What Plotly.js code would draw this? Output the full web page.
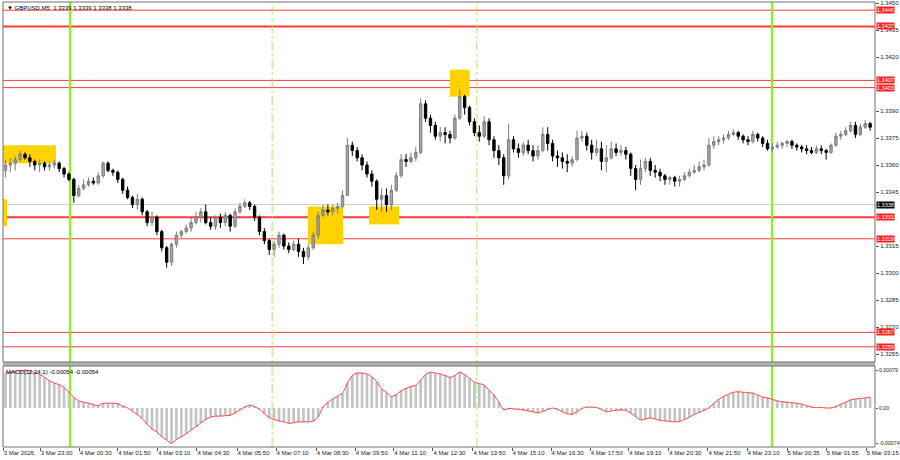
<!DOCTYPE html>
<html><head><meta charset="utf-8">
<script src="https://cdn.plot.ly/plotly-3.0.1.min.js"></script>
<style>html,body{margin:0;padding:0;background:#fff}#c{width:900px;height:460px}</style>
</head><body><div id="c"></div>
<script>
// ---- data (10-minute bars, GBPUSD) ----
const barOpen = [
1.3357,1.3360,1.3361,1.3363,1.3366,1.3364,1.3362,1.3360,1.3361,1.3359,
1.3360,1.3361,1.3358,1.3355,1.3352,1.3343,1.3347,1.3349,1.3351,1.3350,
1.3354,1.3361,1.3357,1.3356,1.3352,1.3346,1.3342,1.3338,1.3341,1.3334,
1.3328,1.3331,1.3323,1.3314,1.3306,1.3316,1.3321,1.3323,1.3325,1.3328,
1.3331,1.3334,1.3328,1.3326,1.3331,1.3328,1.3332,1.3326,1.3334,1.3337,
1.3339,1.3337,1.3331,1.3323,1.3318,1.3313,1.3316,1.3321,1.3315,1.3313,
1.3316,1.3312,1.3309,1.3314,1.3321,1.3332,1.3335,1.3334,1.3336,1.3337,
1.3343,1.3371,1.3368,1.3364,1.3360,1.3355,1.3351,1.3341,1.3343,1.3338,
1.3346,1.3354,1.3363,1.3362,1.3364,1.3367,1.3394,1.3386,1.3382,1.3376,
1.3378,1.3377,1.3375,1.3386,1.3398,1.3392,1.3384,1.3378,1.3376,1.3384,
1.3374,1.3368,1.3364,1.3354,1.3374,1.3369,1.3367,1.3371,1.3368,1.3365,
1.3368,1.3377,1.3372,1.3365,1.3364,1.3362,1.3361,1.3363,1.3375,1.3376,
1.3371,1.3367,1.3369,1.3362,1.3364,1.3369,1.3367,1.3368,1.3366,1.3358,
1.3352,1.3358,1.3362,1.3357,1.3356,1.3354,1.3352,1.3353,1.3351,1.3352,
1.3354,1.3356,1.3357,1.3359,1.3360,1.3371,1.3373,1.3374,1.3375,1.3377,
1.3378,1.3376,1.3374,1.3373,1.3377,1.3375,1.3372,1.3369,1.3370,1.3371,
1.3372,1.3373,1.3371,1.3370,1.3369,1.3368,1.3367,1.3369,1.3368,1.3367,
1.3371,1.3376,1.3377,1.3379,1.3382,1.3377,1.3381,1.3383];
const barHigh = [
1.3363,1.3364,1.3365,1.3368,1.3367,1.3366,1.3363,1.3363,1.3362,1.3362,
1.3363,1.3362,1.3359,1.3356,1.3353,1.3349,1.3352,1.3353,1.3353,1.3356,
1.3362,1.3362,1.3358,1.3357,1.3353,1.3348,1.3343,1.3344,1.3342,1.3335,
1.3334,1.3332,1.3324,1.3315,1.3317,1.3323,1.3324,1.3327,1.3331,1.3334,
1.3336,1.3338,1.3331,1.3332,1.3333,1.3334,1.3333,1.3336,1.3339,1.3341,
1.3340,1.3338,1.3332,1.3325,1.3319,1.3318,1.3323,1.3322,1.3317,1.3318,
1.3319,1.3314,1.3316,1.3323,1.3334,1.3338,1.3338,1.3338,1.3339,1.3346,
1.3375,1.3373,1.3370,1.3366,1.3362,1.3357,1.3352,1.3347,1.3347,1.3349,
1.3356,1.3366,1.3366,1.3367,1.3370,1.3397,1.3396,1.3388,1.3384,1.3381,
1.3381,1.3379,1.3388,1.3402,1.3399,1.3393,1.3386,1.3382,1.3387,1.3386,
1.3376,1.3371,1.3366,1.3383,1.3376,1.3372,1.3373,1.3374,1.3371,1.3371,
1.3381,1.3381,1.3374,1.3368,1.3367,1.3366,1.3365,1.3379,1.3379,1.3378,
1.3374,1.3374,1.3373,1.3371,1.3373,1.3372,1.3371,1.3370,1.3367,1.3360,
1.3363,1.3364,1.3364,1.3360,1.3358,1.3355,1.3354,1.3354,1.3354,1.3356,
1.3358,1.3360,1.3362,1.3363,1.3375,1.3376,1.3376,1.3377,1.3379,1.3380,
1.3379,1.3377,1.3376,1.3379,1.3378,1.3376,1.3374,1.3372,1.3373,1.3373,
1.3374,1.3374,1.3372,1.3371,1.3371,1.3370,1.3371,1.3371,1.3369,1.3372,
1.3378,1.3379,1.3381,1.3384,1.3384,1.3383,1.3385,1.3384];
const barLow = [
1.3353,1.3356,1.3357,1.3362,1.3363,1.3359,1.3357,1.3356,1.3357,1.3357,
1.3358,1.3356,1.3353,1.3351,1.3339,1.3342,1.3346,1.3348,1.3349,1.3349,
1.3353,1.3356,1.3354,1.3350,1.3344,1.3341,1.3336,1.3335,1.3332,1.3326,
1.3326,1.3321,1.3312,1.3303,1.3304,1.3314,1.3319,1.3322,1.3323,1.3327,
1.3328,1.3327,1.3324,1.3324,1.3325,1.3326,1.3323,1.3325,1.3333,1.3336,
1.3335,1.3329,1.3321,1.3316,1.3310,1.3309,1.3314,1.3313,1.3311,1.3312,
1.3309,1.3305,1.3307,1.3313,1.3319,1.3331,1.3332,1.3332,1.3333,1.3336,
1.3343,1.3365,1.3362,1.3357,1.3353,1.3348,1.3335,1.3334,1.3334,1.3335,
1.3345,1.3353,1.3359,1.3361,1.3362,1.3366,1.3384,1.3378,1.3374,1.3373,
1.3372,1.3372,1.3374,1.3385,1.3388,1.3382,1.3376,1.3373,1.3375,1.3371,
1.3364,1.3360,1.3349,1.3352,1.3367,1.3364,1.3365,1.3366,1.3362,1.3363,
1.3367,1.3368,1.3362,1.3359,1.3358,1.3356,1.3359,1.3362,1.3373,1.3368,
1.3363,1.3365,1.3357,1.3356,1.3363,1.3365,1.3365,1.3363,1.3354,1.3346,
1.3349,1.3356,1.3354,1.3353,1.3351,1.3349,1.3349,1.3348,1.3348,1.3351,
1.3353,1.3355,1.3356,1.3357,1.3359,1.3369,1.3371,1.3372,1.3374,1.3376,
1.3374,1.3372,1.3371,1.3372,1.3373,1.3370,1.3368,1.3367,1.3369,1.3369,
1.3370,1.3369,1.3368,1.3367,1.3366,1.3366,1.3366,1.3366,1.3363,1.3366,
1.3370,1.3374,1.3376,1.3378,1.3375,1.3376,1.3380,1.3379];
const barClose = [
1.3360,1.3361,1.3363,1.3366,1.3364,1.3362,1.3360,1.3361,1.3359,1.3360,
1.3361,1.3358,1.3355,1.3352,1.3343,1.3347,1.3349,1.3351,1.3350,1.3354,
1.3361,1.3357,1.3356,1.3352,1.3346,1.3342,1.3338,1.3341,1.3334,1.3328,
1.3331,1.3323,1.3314,1.3306,1.3316,1.3321,1.3323,1.3325,1.3328,1.3331,
1.3334,1.3328,1.3326,1.3331,1.3328,1.3332,1.3326,1.3334,1.3337,1.3339,
1.3337,1.3331,1.3323,1.3318,1.3313,1.3316,1.3321,1.3315,1.3313,1.3316,
1.3312,1.3309,1.3314,1.3321,1.3332,1.3335,1.3334,1.3336,1.3337,1.3343,
1.3371,1.3368,1.3364,1.3360,1.3355,1.3351,1.3341,1.3343,1.3338,1.3346,
1.3354,1.3363,1.3362,1.3364,1.3367,1.3394,1.3386,1.3382,1.3376,1.3378,
1.3377,1.3375,1.3386,1.3398,1.3392,1.3384,1.3378,1.3376,1.3384,1.3374,
1.3368,1.3364,1.3354,1.3374,1.3369,1.3367,1.3371,1.3368,1.3365,1.3368,
1.3377,1.3372,1.3365,1.3364,1.3362,1.3361,1.3363,1.3375,1.3376,1.3371,
1.3367,1.3369,1.3362,1.3364,1.3369,1.3367,1.3368,1.3366,1.3358,1.3352,
1.3358,1.3362,1.3357,1.3356,1.3354,1.3352,1.3353,1.3351,1.3352,1.3354,
1.3356,1.3357,1.3359,1.3360,1.3371,1.3373,1.3374,1.3375,1.3377,1.3378,
1.3376,1.3374,1.3373,1.3377,1.3375,1.3372,1.3369,1.3370,1.3371,1.3372,
1.3373,1.3371,1.3370,1.3369,1.3368,1.3367,1.3369,1.3368,1.3367,1.3371,
1.3376,1.3377,1.3379,1.3382,1.3377,1.3381,1.3383,1.3381];
const macdValues = [
0.00073,0.00075,0.00077,0.00078,0.00079,0.00078,0.00074,0.00070,0.00064,0.00057,
0.00052,0.00049,0.00043,0.00033,0.00022,0.00015,0.00012,0.00010,0.00007,0.00005,
0.00010,0.00010,0.00010,0.00009,0.00004,0.00000,-0.00007,-0.00014,-0.00022,-0.00034,
-0.00044,-0.00050,-0.00060,-0.00067,-0.00074,-0.00066,-0.00060,-0.00054,-0.00046,-0.00039,
-0.00031,-0.00024,-0.00019,-0.00017,-0.00017,-0.00016,-0.00015,-0.00010,-0.00004,0.00002,
0.00006,0.00003,-0.00003,-0.00012,-0.00020,-0.00024,-0.00027,-0.00029,-0.00032,-0.00031,
-0.00029,-0.00029,-0.00029,-0.00027,-0.00018,0.00002,0.00012,0.00019,0.00025,0.00031,
0.00052,0.00068,0.00073,0.00073,0.00071,0.00065,0.00055,0.00040,0.00033,0.00024,
0.00028,0.00036,0.00041,0.00045,0.00048,0.00058,0.00070,0.00075,0.00073,0.00071,
0.00068,0.00064,0.00068,0.00075,0.00070,0.00062,0.00054,0.00051,0.00048,0.00037,
0.00027,0.00012,-0.00004,-0.00001,-0.00002,-0.00003,-0.00004,-0.00006,-0.00008,-0.00010,
-0.00007,-0.00003,0.00000,-0.00003,-0.00008,-0.00012,-0.00013,-0.00008,-0.00001,0.00002,
0.00002,0.00001,-0.00003,-0.00008,-0.00006,-0.00005,-0.00004,-0.00005,-0.00011,-0.00018,
-0.00025,-0.00023,-0.00021,-0.00023,-0.00026,-0.00027,-0.00028,-0.00029,-0.00028,-0.00024,
-0.00019,-0.00014,-0.00009,-0.00005,0.00000,0.00010,0.00018,0.00024,0.00029,0.00033,
0.00034,0.00033,0.00032,0.00031,0.00027,0.00023,0.00021,0.00018,0.00015,0.00013,
0.00012,0.00011,0.00010,0.00008,0.00005,0.00002,0.00001,0.00001,0.00000,0.00000,
0.00003,0.00008,0.00012,0.00017,0.00019,0.00020,0.00021,0.00023];

const timeTickBar = [-0.45,7.1,15.1,23.0,31.2,39.2,47.4,55.4,63.6,71.6,79.5,87.5,95.7,103.7,111.7,119.7,127.6,135.8,143.8,151.8,160.0,168.0,176.2];
const timeTickLabels = ["3 Mar 2026","3 Mar 23:00","4 Mar 00:30","4 Mar 01:50","4 Mar 03:10","4 Mar 04:30","4 Mar 05:50","4 Mar 07:10","4 Mar 08:30","4 Mar 09:50","4 Mar 11:10","4 Mar 12:30","4 Mar 13:50","4 Mar 15:10","4 Mar 16:30","4 Mar 17:50","4 Mar 19:10","4 Mar 20:30","4 Mar 21:50","4 Mar 23:10","5 Mar 00:35","5 Mar 01:55","5 Mar 03:15"];
const priceTicks = [1.3450,1.3435,1.3420,1.3390,1.3375,1.3360,1.3345,1.3315,1.3300,1.3285,1.3270,1.3255];

const redLevels = [1.3446,1.3437,1.3407,1.3403,1.3331,1.3319,1.3267,1.3259];
const thickLevels = [1.3437,1.3331];
const bidPrice = 1.3338;
const solidMarkerBars = [13.2,156.9];
const dashedMarkerBars = [54.6,96.5];
const zoneBar0 = [-0.5,-0.5,61.9,74.4,91.0];
const zoneBar1 = [10.35,0.32,69.1,80.6,95.0];
const zoneLow  = [1.3361,1.3326,1.3316,1.3327,1.3398];
const zoneHigh = [1.3371,1.3341,1.3337,1.3337,1.3413];
const headerText = "▼ GBPUSD,M5  1.3339 1.3339 1.3338 1.3338";
const macdText = "MACD(12,24,1) -0.00054 -0.00054";
const macdTickVals = [0.00079,0,-0.00074];
const macdTickText = ["0.00079","0.00","-0.00074"];

// ---- chart ----
const barIdx = barOpen.map((_, i) => i);
const FONT = "Liberation Sans";
const traces = [
  {type:'candlestick', x:barIdx, open:barOpen, high:barHigh, low:barLow, close:barClose,
   xaxis:'x', yaxis:'y', whiskerwidth:0,
   increasing:{line:{color:'#7c7c7c',width:1}, fillcolor:'#a8a8a8'},
   decreasing:{line:{color:'#000000',width:1}, fillcolor:'#000000'},
   hoverinfo:'skip', showlegend:false},
  {type:'bar', x:barIdx, y:macdValues, xaxis:'x', yaxis:'y2',
   marker:{color:'#c4c4c4', line:{width:0}}, hoverinfo:'skip', showlegend:false},
  {type:'scatter', mode:'lines', x:barIdx, y:macdValues, xaxis:'x', yaxis:'y2',
   line:{color:'#ff3c3c', width:1, shape:'spline', smoothing:0.6}, hoverinfo:'skip', showlegend:false}
];

const shapes = [];
zoneBar0.forEach((x0, k) => shapes.push({type:'rect', xref:'x', yref:'y', x0:x0, x1:zoneBar1[k],
  y0:zoneLow[k], y1:zoneHigh[k], fillcolor:'#ffd200', line:{width:0}, layer:'below'}));
redLevels.forEach(v => shapes.push({type:'line', xref:'paper', yref:'y', x0:0, x1:1, y0:v, y1:v,
  line:{color:'#ff3a3a', width: thickLevels.includes(v) ? 2 : 1}, layer:'below'}));
shapes.push({type:'line', xref:'paper', yref:'y', x0:0, x1:1, y0:bidPrice, y1:bidPrice,
  line:{color:'#c8c8c8', width:1}, layer:'below'});
solidMarkerBars.forEach(b => shapes.push({type:'line', xref:'x', yref:'paper', x0:b, x1:b, y0:0, y1:1,
  line:{color:'#7cfc00', width:2}, layer:'below'}));
dashedMarkerBars.forEach(b => shapes.push({type:'line', xref:'x', yref:'paper', x0:b, x1:b, y0:0, y1:1,
  line:{color:'#a8e878', width:1, dash:'dashdot'}, layer:'below'}));
shapes.push({type:'rect', xref:'paper', yref:'paper', x0:0, x1:1, y0:0.182, y1:0.191,
  fillcolor:'#b4b4b4', line:{width:0}});
shapes.push({type:'rect', xref:'paper', yref:'paper', x0:0, x1:1, y0:0.191, y1:1,
  line:{color:'#707070', width:1}, fillcolor:'rgba(0,0,0,0)'});
shapes.push({type:'rect', xref:'paper', yref:'paper', x0:0, x1:1, y0:0, y1:0.182,
  line:{color:'#707070', width:1}, fillcolor:'rgba(0,0,0,0)'});

const annotations = [];
redLevels.forEach(v => annotations.push({xref:'paper', yref:'y', x:1, y:v, xanchor:'left', yanchor:'middle',
  xshift:1, text:v.toFixed(4), showarrow:false, bgcolor:'#ff2020', borderpad:0,
  font:{family:FONT, size:5.5, color:'#ffffff'}}));
annotations.push({xref:'paper', yref:'y', x:1, y:bidPrice, xanchor:'left', yanchor:'middle',
  xshift:1, text:bidPrice.toFixed(4), showarrow:false, bgcolor:'#000000', borderpad:0,
  font:{family:FONT, size:5.5, color:'#ffffff'}});
annotations.push({xref:'paper', yref:'paper', x:0, y:1, xanchor:'left', yanchor:'top', xshift:2, yshift:-1,
  text:headerText, showarrow:false, font:{family:FONT, size:6, color:'#000'}});
annotations.push({xref:'paper', yref:'paper', x:0, y:0.182, xanchor:'left', yanchor:'top', xshift:1, yshift:-1,
  text:macdText, showarrow:false, font:{family:FONT, size:6, color:'#000'}});

const layout = {
  width:900, height:460, margin:{l:3, r:25, t:2, b:13},
  paper_bgcolor:'#ffffff', plot_bgcolor:'#ffffff', showlegend:false, bargap:0.45,
  font:{family:FONT, size:6, color:'#222'},
  xaxis:{range:[-0.5,178], anchor:'y2', showgrid:false, zeroline:false, rangeslider:{visible:false},
    tickmode:'array', tickvals:timeTickBar, ticktext:timeTickLabels, ticks:'outside', ticklen:3,
    tickcolor:'#555', tickangle:0, ticklabelposition:'outside right', ticklabeloverflow:'allow',
    tickfont:{family:FONT, size:6, color:'#222'}, showline:false, fixedrange:true},
  yaxis:{domain:[0.191,1], range:[1.325056,1.345056], side:'right', anchor:'x', showgrid:false,
    zeroline:false, tickmode:'array', tickvals:priceTicks, ticktext:priceTicks.map(v => v.toFixed(4)),
    ticks:'outside', ticklen:3, tickcolor:'#555', tickfont:{family:FONT, size:6, color:'#222'},
    showline:false},
  yaxis2:{domain:[0,0.182], range:[-0.000815,0.000878], side:'right', anchor:'x', showgrid:false,
    zeroline:false, tickmode:'array', tickvals:macdTickVals, ticktext:macdTickText,
    ticks:'outside', ticklen:2, tickcolor:'#555', tickfont:{family:FONT, size:5.2, color:'#222'},
    showline:false},
  shapes:shapes, annotations:annotations
};
Plotly.newPlot('c', traces, layout, {staticPlot:true, displayModeBar:false});
</script></body></html>
